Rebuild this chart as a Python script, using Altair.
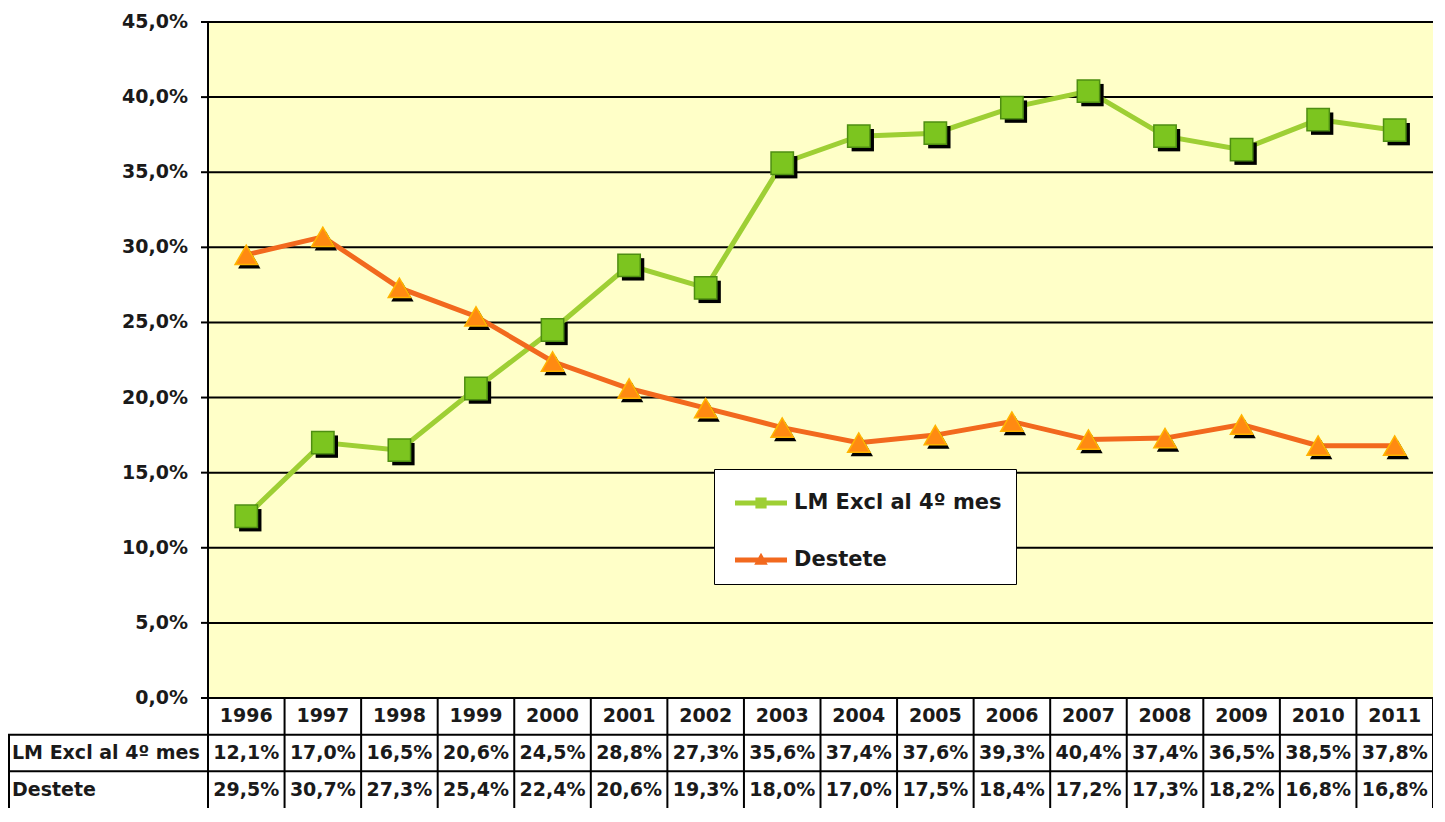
import altair as alt
import pandas as pd

# ---------------- data ----------------
years = list(range(1996, 2012))
lm_excl = [12.1, 17.0, 16.5, 20.6, 24.5, 28.8, 27.3, 35.6, 37.4, 37.6, 39.3, 40.4, 37.4, 36.5, 38.5, 37.8]
destete = [29.5, 30.7, 27.3, 25.4, 22.4, 20.6, 19.3, 18.0, 17.0, 17.5, 18.4, 17.2, 17.3, 18.2, 16.8, 16.8]
series = ["LM Excl al 4º mes", "Destete"]
y_ticks = [0, 5, 10, 15, 20, 25, 30, 35, 40, 45]


def pct(v):
    return f"{v:.1f}".replace(".", ",") + "%"


# ---------------- layout (pixels) ----------------
W, H = 1425, 800
LABEL_COL = 200
PLOT_TOP = 14
PLOT_BOTTOM = 690
TICK = 7
FONT = "DejaVu Sans"
TXT = "#1a1a1a"
GREEN_LINE = "#9ECF34"
GREEN_FILL = "#7CC51F"
GREEN_EDGE = "#4E8E12"
ORANGE_LINE = "#F2691E"
ORANGE_FILL = "#FF8A12"
ORANGE_EDGE = "#FFB400"
BG = "#FFFFC8"

ymax = y_ticks[-1]
col_px = (W - LABEL_COL) / len(years)
x_lo = years[0] - 0.5
x_hi = years[-1] + 0.5
x_min = x_lo - LABEL_COL / col_px
ppu = (PLOT_BOTTOM - PLOT_TOP) / ymax
y_max_dom = ymax + PLOT_TOP / ppu
y_min_dom = -(H - PLOT_BOTTOM) / ppu
row = (H - PLOT_BOTTOM) / 3 / ppu
tick_len = TICK / col_px

xs = alt.Scale(domain=[x_min, x_hi], nice=False, zero=False)
ys = alt.Scale(domain=[y_min_dom, y_max_dom], nice=False, zero=False)


def X(f):
    return alt.X(f"{f}:Q", scale=xs, axis=None)


def Y(f):
    return alt.Y(f"{f}:Q", scale=ys, axis=None)


# ---------------- background ----------------
bg = alt.Chart(pd.DataFrame({"x": [x_lo], "x2": [x_hi], "y": [0], "y2": [ymax]})).mark_rect(
    color=BG
).encode(x=X("x"), x2="x2:Q", y=Y("y"), y2="y2:Q")

# ---------------- rules: grid, ticks, axis, table ----------------
segs = []
for t in y_ticks[1:]:
    segs.append(dict(x=x_lo, x2=x_hi, y=t, y2=t))
    segs.append(dict(x=x_lo - tick_len, x2=x_lo, y=t, y2=t))
segs.append(dict(x=x_lo - tick_len, x2=x_hi, y=0, y2=0))
segs.append(dict(x=x_lo, x2=x_lo, y=y_min_dom, y2=ymax))
for k in range(1, len(years) + 1):
    segs.append(dict(x=x_lo + k, x2=x_lo + k, y=y_min_dom, y2=0))
segs.append(dict(x=x_min + 1 / col_px, x2=x_min + 1 / col_px, y=y_min_dom, y2=-row))
segs.append(dict(x=x_min, x2=x_hi, y=-row, y2=-row))
segs.append(dict(x=x_min, x2=x_hi, y=-2 * row, y2=-2 * row))

rules = alt.Chart(pd.DataFrame(segs)).mark_rule(color="black", strokeWidth=2).encode(
    x=X("x"), x2="x2:Q", y=Y("y"), y2="y2:Q"
)

# ---------------- series ----------------
df_lm = pd.DataFrame({"year": years, "value": lm_excl})
df_de = pd.DataFrame({"year": years, "value": destete})

layers = [bg, rules]
for df, lc in [(df_lm, GREEN_LINE), (df_de, ORANGE_LINE)]:
    layers.append(
        alt.Chart(df).mark_line(color=lc, strokeWidth=5, interpolate="linear").encode(
            x=X("year"), y=Y("value")
        )
    )

# shadows
layers.append(
    alt.Chart(df_lm).mark_point(shape="square", filled=True, color="black", size=500, opacity=1,
                                xOffset=4, yOffset=4).encode(x=X("year"), y=Y("value"))
)
layers.append(
    alt.Chart(df_de).mark_point(shape="triangle-up", filled=True, color="black", size=500, opacity=1,
                                xOffset=3, yOffset=4).encode(x=X("year"), y=Y("value"))
)
# markers
layers.append(
    alt.Chart(df_lm).mark_point(shape="square", filled=True, fill=GREEN_FILL, stroke=GREEN_EDGE,
                                strokeWidth=1.5, size=500, opacity=1).encode(x=X("year"), y=Y("value"))
)
layers.append(
    alt.Chart(df_de).mark_point(shape="triangle-up", filled=True, fill=ORANGE_FILL, stroke=ORANGE_EDGE,
                                strokeWidth=1.5, size=500, opacity=1).encode(x=X("year"), y=Y("value"))
)

# ---------------- text: y axis labels ----------------
df_ylab = pd.DataFrame({"x": [x_lo] * len(y_ticks), "y": y_ticks, "label": [pct(t) for t in y_ticks]})
layers.append(
    alt.Chart(df_ylab).mark_text(align="right", baseline="middle", dx=-20, font=FONT, fontSize=19,
                                 fontWeight="bold", color=TXT).encode(x=X("x"), y=Y("y"), text="label:N")
)

# ---------------- table ----------------
df_years = pd.DataFrame({"x": years, "y": [-row / 2] * len(years), "label": [str(y) for y in years]})
layers.append(
    alt.Chart(df_years).mark_text(align="center", baseline="middle", font=FONT, fontSize=19,
                                  fontWeight="bold", color=TXT).encode(x=X("x"), y=Y("y"), text="label:N")
)
tab_rows = []
for i, vals in enumerate([lm_excl, destete]):
    yc = -row * (1.5 + i)
    for yr, v in zip(years, vals):
        tab_rows.append(dict(x=yr, y=yc, label=pct(v)))
layers.append(
    alt.Chart(pd.DataFrame(tab_rows)).mark_text(align="center", baseline="middle", font=FONT, fontSize=19,
                                                fontWeight="bold", color=TXT).encode(x=X("x"), y=Y("y"), text="label:N")
)
df_rowlab = pd.DataFrame({"x": [x_min, x_min], "y": [-row * 1.5, -row * 2.5], "label": series})
layers.append(
    alt.Chart(df_rowlab).mark_text(align="left", baseline="middle", dx=4, font=FONT, fontSize=19,
                                   fontWeight="bold", color=TXT).encode(x=X("x"), y=Y("y"), text="label:N")
)

# ---------------- legend ----------------
path_lm = "M-0.65,-0.12H1.95V0.12H-0.65Z M0.37,-0.28H0.93V0.28H0.37Z"
path_de = "M-0.65,-0.12H1.95V0.12H-0.65Z M0.65,-0.36L0.99,0.24H0.31Z"
leg = alt.Legend(
    title=None, orient="none", legendX=706, legendY=461,
    fillColor="white", strokeColor="black", padding=14,
    symbolSize=1600, symbolStrokeWidth=0, rowPadding=27, labelOffset=26,
    labelFont=FONT, labelFontSize=21, labelFontWeight="bold", labelColor=TXT,
    labelLimit=400,
)
df_leg = pd.DataFrame({"serie": series, "x": [2000, 2000], "y": [10, 10]})
layers.append(
    alt.Chart(df_leg).transform_filter("false").mark_point(filled=True, opacity=1).encode(
        x=X("x"), y=Y("y"),
        color=alt.Color("serie:N", scale=alt.Scale(domain=series, range=[GREEN_LINE, ORANGE_LINE]), legend=leg),
        shape=alt.Shape("serie:N", scale=alt.Scale(domain=series, range=[path_lm, path_de]), legend=leg),
    )
)

chart = (
    alt.layer(*layers)
    .properties(width=W, height=H, padding=0, autosize=alt.AutoSizeParams(type="none"), background="white")
    .configure_view(stroke=None)
)

chart.save("out.html", embed_options={"renderer": "svg", "actions": False})
